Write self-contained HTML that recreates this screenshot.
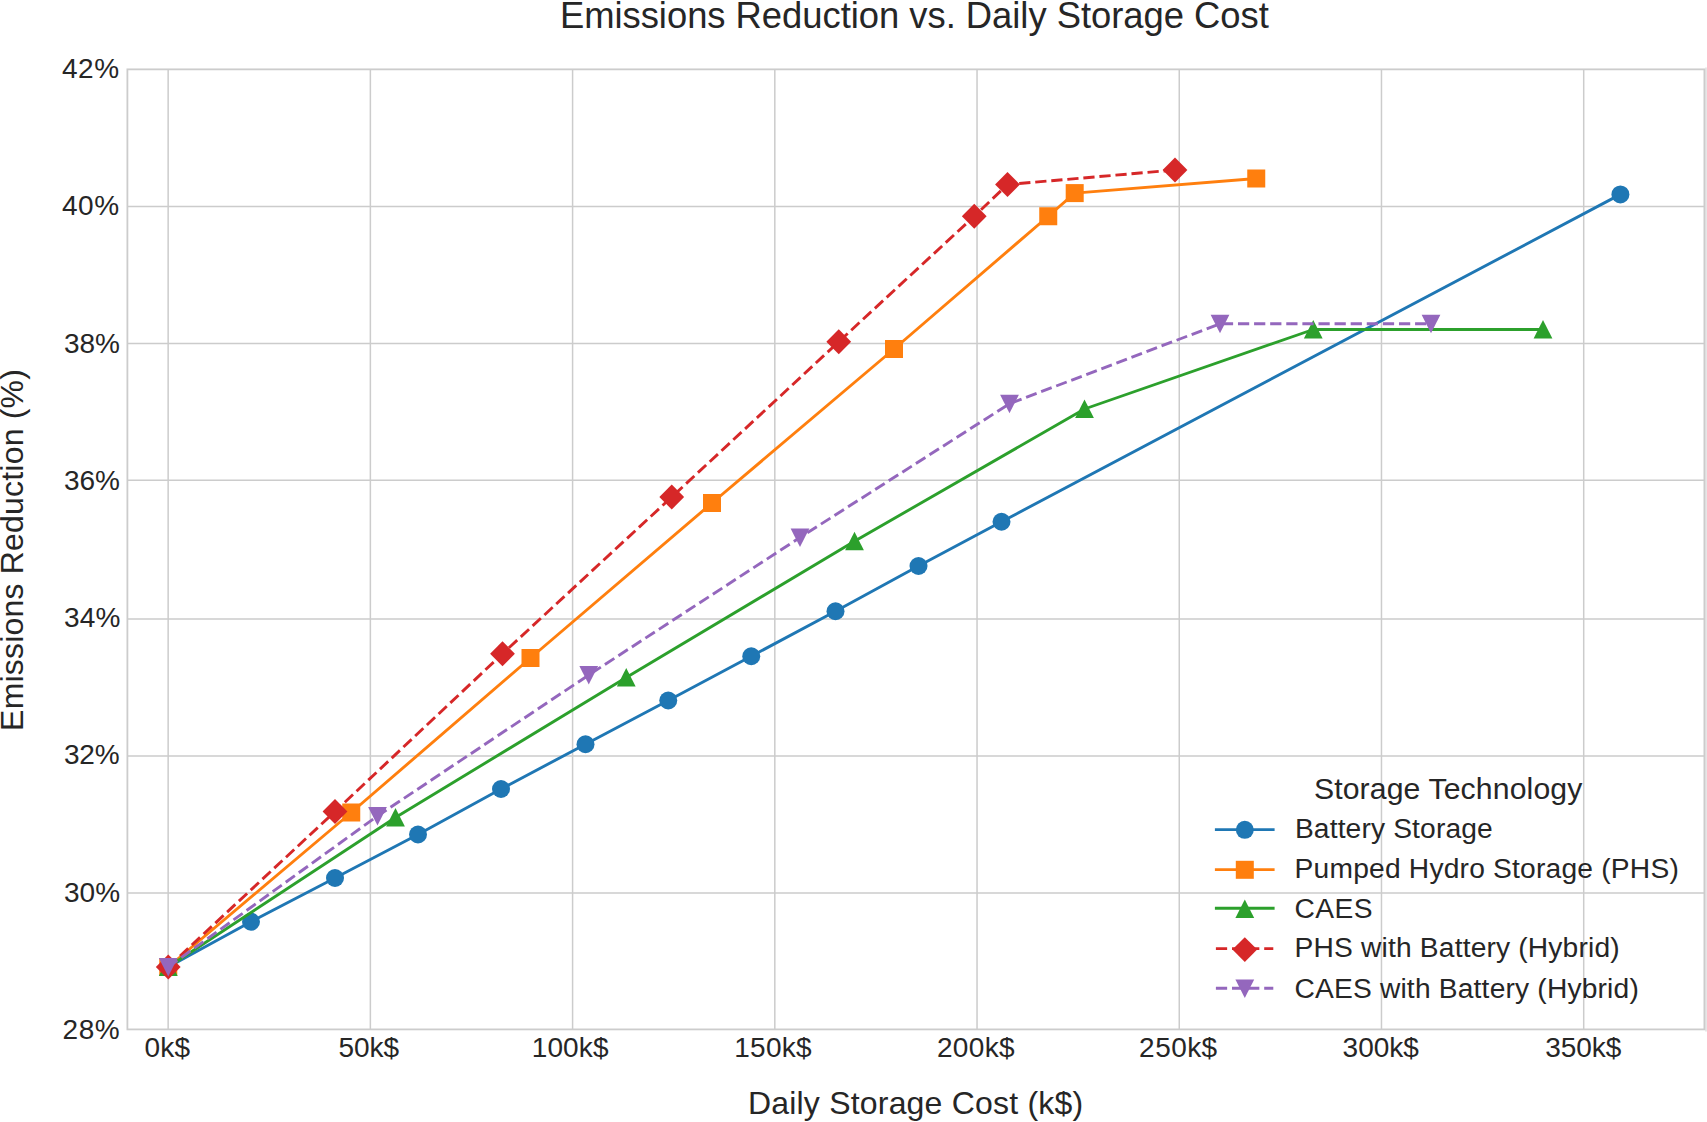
<!DOCTYPE html>
<html lang="en"><head><meta charset="utf-8"><title>Emissions Reduction vs. Daily Storage Cost</title>
<style>html,body{margin:0;padding:0;background:#fff;overflow:hidden}svg{display:block}text{font-family:"Liberation Sans",Arial,Helvetica,sans-serif;fill:#262626}</style></head><body>
<svg width="1707" height="1122" viewBox="0 0 1707 1122">
<rect width="1707" height="1122" fill="#fff"/>
<rect x="1705" y="67.5" width="2" height="964" fill="#e6e6e6"/>
<path d="M168.15 69.35V1029.4M370.37 69.35V1029.4M572.59 69.35V1029.4M774.81 69.35V1029.4M977.04 69.35V1029.4M1179.26 69.35V1029.4M1381.48 69.35V1029.4M1583.70 69.35V1029.4M127.4 893.00H1704.4M127.4 756.10H1704.4M127.4 619.00H1704.4M127.4 480.30H1704.4M127.4 343.50H1704.4M127.4 206.50H1704.4" stroke="#cccccc" stroke-width="1.5" fill="none"/>
<path d="M168.25 967 L251 921.75 L335 878 L418 834.5 L501 789 L585.5 744.25 L668.25 700.5 L751.25 656.25 L835.5 611.25 L918.5 566 L1001.5 521.75 L1620.4 194.4" stroke="#1f77b4" stroke-width="2.9" fill="none" stroke-linejoin="round"/>
<circle cx="168.25" cy="967" r="9.0" fill="#1f77b4"/><circle cx="251" cy="921.75" r="9.0" fill="#1f77b4"/><circle cx="335" cy="878" r="9.0" fill="#1f77b4"/><circle cx="418" cy="834.5" r="9.0" fill="#1f77b4"/><circle cx="501" cy="789" r="9.0" fill="#1f77b4"/><circle cx="585.5" cy="744.25" r="9.0" fill="#1f77b4"/><circle cx="668.25" cy="700.5" r="9.0" fill="#1f77b4"/><circle cx="751.25" cy="656.25" r="9.0" fill="#1f77b4"/><circle cx="835.5" cy="611.25" r="9.0" fill="#1f77b4"/><circle cx="918.5" cy="566" r="9.0" fill="#1f77b4"/><circle cx="1001.5" cy="521.75" r="9.0" fill="#1f77b4"/><circle cx="1620.4" cy="194.4" r="9.0" fill="#1f77b4"/>
<path d="M168.25 967 L351.25 812.5 L530.5 658 L712 503 L894 349 L1048.25 216.25 L1074.7 193.1 L1256.25 178.5" stroke="#ff7f0e" stroke-width="2.9" fill="none" stroke-linejoin="round"/>
<rect x="159.25" y="958.00" width="18.00" height="18.00" fill="#ff7f0e"/><rect x="342.25" y="803.50" width="18.00" height="18.00" fill="#ff7f0e"/><rect x="521.50" y="649.00" width="18.00" height="18.00" fill="#ff7f0e"/><rect x="703.00" y="494.00" width="18.00" height="18.00" fill="#ff7f0e"/><rect x="885.00" y="340.00" width="18.00" height="18.00" fill="#ff7f0e"/><rect x="1039.25" y="207.25" width="18.00" height="18.00" fill="#ff7f0e"/><rect x="1065.70" y="184.10" width="18.00" height="18.00" fill="#ff7f0e"/><rect x="1247.25" y="169.50" width="18.00" height="18.00" fill="#ff7f0e"/>
<path d="M168.25 967 L395.5 817.5 L626.25 677.5 L854.5 541.25 L1084.5 409 L1313.25 329.5 L1543 329.5" stroke="#2ca02c" stroke-width="2.9" fill="none" stroke-linejoin="round"/>
<polygon points="168.25,957.40 158.85,975.90 177.65,975.90" fill="#2ca02c"/><polygon points="395.50,807.90 386.10,826.40 404.90,826.40" fill="#2ca02c"/><polygon points="626.25,667.90 616.85,686.40 635.65,686.40" fill="#2ca02c"/><polygon points="854.50,531.65 845.10,550.15 863.90,550.15" fill="#2ca02c"/><polygon points="1084.50,399.40 1075.10,417.90 1093.90,417.90" fill="#2ca02c"/><polygon points="1313.25,319.90 1303.85,338.40 1322.65,338.40" fill="#2ca02c"/><polygon points="1543.00,319.90 1533.60,338.40 1552.40,338.40" fill="#2ca02c"/>
<path d="M168.25 967 L335 811.5 L502.5 653.75 L671.75 497 L838.75 341.75 L974.25 216.25 L1007.5 184.5 L1175 170" stroke="#d62728" stroke-width="2.9" fill="none" stroke-linejoin="round" stroke-dasharray="11.24 4.86"/>
<polygon points="168.25,954.60 180.65,967.00 168.25,979.40 155.85,967.00" fill="#d62728"/><polygon points="335.00,799.10 347.40,811.50 335.00,823.90 322.60,811.50" fill="#d62728"/><polygon points="502.50,641.35 514.90,653.75 502.50,666.15 490.10,653.75" fill="#d62728"/><polygon points="671.75,484.60 684.15,497.00 671.75,509.40 659.35,497.00" fill="#d62728"/><polygon points="838.75,329.35 851.15,341.75 838.75,354.15 826.35,341.75" fill="#d62728"/><polygon points="974.25,203.85 986.65,216.25 974.25,228.65 961.85,216.25" fill="#d62728"/><polygon points="1007.50,172.10 1019.90,184.50 1007.50,196.90 995.10,184.50" fill="#d62728"/><polygon points="1175.00,157.60 1187.40,170.00 1175.00,182.40 1162.60,170.00" fill="#d62728"/>
<path d="M168.25 967 L377.5 816 L588.75 675 L800 537.5 L1009.5 403.75 L1220 323.75 L1431 323.75" stroke="#9467bd" stroke-width="2.9" fill="none" stroke-linejoin="round" stroke-dasharray="11.24 4.86"/>
<polygon points="168.25,976.60 158.85,958.10 177.65,958.10" fill="#9467bd"/><polygon points="377.50,825.60 368.10,807.10 386.90,807.10" fill="#9467bd"/><polygon points="588.75,684.60 579.35,666.10 598.15,666.10" fill="#9467bd"/><polygon points="800.00,547.10 790.60,528.60 809.40,528.60" fill="#9467bd"/><polygon points="1009.50,413.35 1000.10,394.85 1018.90,394.85" fill="#9467bd"/><polygon points="1220.00,333.35 1210.60,314.85 1229.40,314.85" fill="#9467bd"/><polygon points="1431.00,333.35 1421.60,314.85 1440.40,314.85" fill="#9467bd"/>
<rect x="127.4" y="69.35" width="1577.00" height="960.05" fill="none" stroke="#cccccc" stroke-width="1.8"/>
<text id="xt0" x="167.35" y="1057.00" font-size="28" text-anchor="middle" textLength="45.56" lengthAdjust="spacing">0k$</text>
<text id="xt50" x="368.74" y="1057.00" font-size="28" text-anchor="middle" textLength="60.47" lengthAdjust="spacing">50k$</text>
<text id="xt100" x="570.09" y="1057.00" font-size="28" text-anchor="middle" textLength="76.80" lengthAdjust="spacing">100k$</text>
<text id="xt150" x="772.96" y="1057.00" font-size="28" text-anchor="middle" textLength="77.40" lengthAdjust="spacing">150k$</text>
<text id="xt200" x="975.79" y="1057.00" font-size="28" text-anchor="middle" textLength="77.80" lengthAdjust="spacing">200k$</text>
<text id="xt250" x="1178.14" y="1057.00" font-size="28" text-anchor="middle" textLength="78.05" lengthAdjust="spacing">250k$</text>
<text id="xt300" x="1380.73" y="1057.00" font-size="28" text-anchor="middle" textLength="76.30" lengthAdjust="spacing">300k$</text>
<text id="xt350" x="1583.34" y="1057.00" font-size="28" text-anchor="middle" textLength="76.05" lengthAdjust="spacing">350k$</text>
<text id="yt28" x="119.70" y="1038.96" font-size="28" text-anchor="end" textLength="57.24" lengthAdjust="spacing">28%</text>
<text id="yt30" x="120.18" y="901.96" font-size="28" text-anchor="end" textLength="56.21" lengthAdjust="spacing">30%</text>
<text id="yt32" x="119.60" y="763.80" font-size="28" text-anchor="end" textLength="55.63" lengthAdjust="spacing">32%</text>
<text id="yt34" x="120.50" y="626.80" font-size="28" text-anchor="end" textLength="56.53" lengthAdjust="spacing">34%</text>
<text id="yt36" x="119.82" y="489.54" font-size="28" text-anchor="end" textLength="55.85" lengthAdjust="spacing">36%</text>
<text id="yt38" x="119.82" y="352.54" font-size="28" text-anchor="end" textLength="55.85" lengthAdjust="spacing">38%</text>
<text id="yt40" x="119.05" y="214.66" font-size="28" text-anchor="end" textLength="57.10" lengthAdjust="spacing">40%</text>
<text id="yt42" x="119.05" y="77.50" font-size="28" text-anchor="end" textLength="57.10" lengthAdjust="spacing">42%</text>
<text id="title" x="559.95" y="28.00" font-size="36.4" textLength="708.81" lengthAdjust="spacing">Emissions Reduction vs. Daily Storage Cost</text>
<text id="xlabel" x="747.90" y="1114.00" font-size="32" textLength="335.23" lengthAdjust="spacing">Daily Storage Cost (k$)</text>
<text id="ylabel" transform="translate(23.4,550.0) rotate(-90)" font-size="32" text-anchor="middle" textLength="361.8" lengthAdjust="spacing">Emissions Reduction (%)</text>
<text id="ltitle" x="1313.90" y="799.00" font-size="30.2" textLength="268.40" lengthAdjust="spacing">Storage Technology</text>
<path d="M1214.9 829.6H1274.6" stroke="#1f77b4" stroke-width="2.9" fill="none"/>
<circle cx="1244.8" cy="829.8000000000001" r="9.0" fill="#1f77b4"/>
<text id="leg_b" x="1294.90" y="837.70" font-size="28.2" textLength="197.86" lengthAdjust="spacing">Battery Storage</text>
<path d="M1214.9 869.6H1274.6" stroke="#ff7f0e" stroke-width="2.9" fill="none"/>
<rect x="1235.80" y="860.80" width="18.00" height="18.00" fill="#ff7f0e"/>
<text id="leg_o" x="1294.60" y="878.00" font-size="28.2" textLength="384.19" lengthAdjust="spacing">Pumped Hydro Storage (PHS)</text>
<path d="M1214.9 908.3H1274.6" stroke="#2ca02c" stroke-width="2.9" fill="none"/>
<polygon points="1244.80,899.50 1235.40,918.00 1254.20,918.00" fill="#2ca02c"/>
<text id="leg_g" x="1294.40" y="917.75" font-size="28.2" textLength="78.07" lengthAdjust="spacing">CAES</text>
<path d="M1215.9 948.6H1273.3" stroke="#d62728" stroke-width="2.9" fill="none" stroke-dasharray="11.24 4.86"/>
<polygon points="1244.80,937.20 1257.20,949.60 1244.80,962.00 1232.40,949.60" fill="#d62728"/>
<text id="leg_r" x="1294.60" y="957.40" font-size="28.2" textLength="325.01" lengthAdjust="spacing">PHS with Battery (Hybrid)</text>
<path d="M1215.9 988.2H1273.3" stroke="#9467bd" stroke-width="2.9" fill="none" stroke-dasharray="11.24 4.86"/>
<polygon points="1244.80,998.10 1235.40,979.60 1254.20,979.60" fill="#9467bd"/>
<text id="leg_p" x="1294.40" y="997.70" font-size="28.2" textLength="344.41" lengthAdjust="spacing">CAES with Battery (Hybrid)</text>
</svg></body></html>
